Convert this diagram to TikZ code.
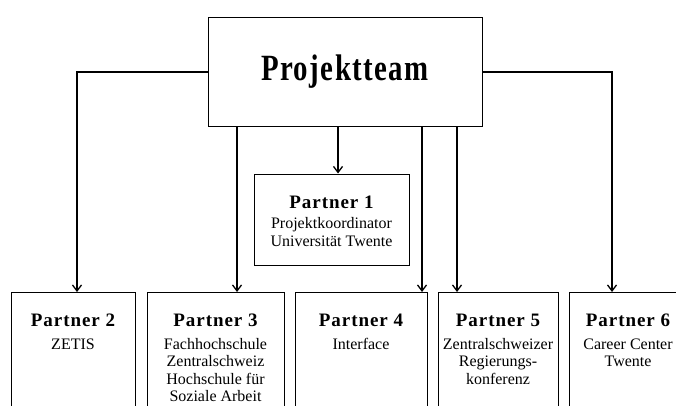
\documentclass[tikz,border=0pt]{standalone}
\usepackage{fontspec}
\setmainfont{Liberation Serif}
\newfontfamily\spacedfont[LetterSpace=5]{Liberation Serif}
\usetikzlibrary{positioning,arrows.meta}

\tikzset{
	partnerbox/.style={rectangle, draw, line width=1pt, inner sep=0pt},
	partnertext/.style={align=center, inner sep=0pt, font=\fontsize{16}{17.5}\selectfont},
	link/.style={line width=1.3pt, -{Straight Barb[length=6pt,width=9pt]}}
}
\newcommand{\ptitle}[1]{{\spacedfont\bfseries\fontsize{19}{19}\selectfont #1}}

\begin{document}
\begin{tikzpicture}[x=1pt,y=1pt]
				\useasboundingbox (0,0) rectangle (676,405);
				\clip (0,0) rectangle (676,405);
				% project team
				\node[partnerbox, minimum width=274pt, minimum height=108pt] (team) at (345,333) {\scalebox{0.78}[1]{\spacedfont\bfseries\fontsize{37}{37}\selectfont Projektteam}};
				
				% partner 1
				\node[partnerbox, minimum width=155pt, minimum height=91pt] (p1) at (331.5,185.5) {};
				\node[partnertext, below=22pt of p1.north] (p1t) {\ptitle{Partner 1}\\[3pt]Projektkoordinator\\Universität Twente};
				
				% partners 2 to 6
				\node[partnerbox, anchor=north, minimum width=124pt, minimum height=150pt] (p2) at (73,113) {};
				\node[partnerbox, anchor=north, minimum width=137pt, minimum height=150pt] (p3) at (215.5,113) {};
				\node[partnerbox, anchor=north, minimum width=132pt, minimum height=150pt] (p4) at (361,113) {};
				\node[partnerbox, anchor=north, minimum width=120pt, minimum height=150pt] (p5) at (498,113) {};
				\node[partnerbox, anchor=north, minimum width=118pt, minimum height=150pt] (p6) at (628,113) {};
				
				\node[partnertext, below=22pt of p2.north] (p2t) {\ptitle{Partner 2}\\[5pt]ZETIS};
				\node[partnertext, below=22pt of p3.north] (p3t) {\ptitle{Partner 3}\\[5pt]Fachhochschule\\Zentralschweiz\\Hochschule für\\Soziale Arbeit};
				\node[partnertext, below=22pt of p4.north] (p4t) {\ptitle{Partner 4}\\[5pt]Interface};
				\node[partnertext, below=22pt of p5.north] (p5t) {\ptitle{Partner 5}\\[5pt]Zentralschweizer\\Regierungs-\\konferenz};
				\node[partnertext, below=22pt of p6.north] (p6t) {\ptitle{Partner 6}\\[5pt]Career Center\\Twente};
				
				\draw[link] (team.west) -| ([xshift=4pt]p2.north);
				\draw[link] (team.east) -| ([xshift=-16pt]p6.north);
				\draw[link] ([xshift=6.5pt]p1.north |- team.south) -- ([xshift=6.5pt]p1.north);
				\draw[link] ([xshift=21.5pt]p3.north |- team.south) -- ([xshift=21.5pt]p3.north);
				\draw[link] ([xshift=61pt]p4.north |- team.south) -- ([xshift=61pt]p4.north);
				\draw[link] ([xshift=-41pt]p5.north |- team.south) -- ([xshift=-41pt]p5.north);
			\end{tikzpicture}
\end{document}
